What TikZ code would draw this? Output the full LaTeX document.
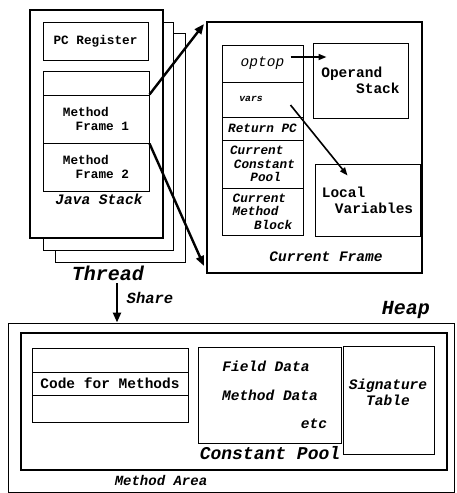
\documentclass[tikz,border=0pt]{standalone}
\usepackage{fontspec}
\setmainfont{Liberation Mono}
\usetikzlibrary{arrows.meta,positioning}

\newcommand{\szV}{\fontsize{9.7}{11}\selectfont}
\newcommand{\szS}{\fontsize{12.7}{13.5}\selectfont}
\newcommand{\szM}{\fontsize{14.5}{16}\selectfont}
\newcommand{\szB}{\fontsize{18}{20}\selectfont}
\newcommand{\szL}{\fontsize{20}{22}\selectfont}

\tikzset{
  thinbox/.style={draw, line width=1pt, fill=white, inner sep=0pt},
  thickbox/.style={draw, line width=2pt, fill=white, inner sep=0pt},
  upr/.style={font=\bfseries#1, align=left, inner sep=0pt},
  upr/.default=\szM,
  ital/.style={font=\bfseries\itshape#1, align=left, inner sep=0pt},
  ital/.default=\szM,
  bigarrow/.style={line width=2.4pt, -{Triangle[length=10pt,width=8pt]}},
  smallarrow/.style={line width=1.6pt, -{Triangle[length=8pt,width=6pt]}},
}

\begin{document}
\begin{tikzpicture}[x=1pt, y=-1pt]
\useasboundingbox (0,0) rectangle (456,493);

% Thread pages
\node[thinbox, minimum width=130pt, minimum height=229pt] (page3) at (120,147.5) {};
\node[thinbox, minimum width=130pt, minimum height=228pt] (page2) at (108,136) {};
\node[thickbox, minimum width=133pt, minimum height=228pt] (page1) at (96.5,124) {};

% PC register and Java stack
\node[thinbox, minimum width=105pt, minimum height=38pt, upr=\szS] (pcreg) at (95.5,41) {PC Register};
\node[thinbox, minimum width=106pt, minimum height=24pt] (top) at (96,83) {};
\node[thinbox, minimum width=106pt, minimum height=48pt, upr=\szS] (mf1) at (96,119) {Method\\\hspace*{1em}Frame 1};
\node[thinbox, minimum width=106pt, minimum height=48pt, upr=\szS] (mf2) at (96,167) {Method\\\hspace*{1em}Frame 2};
\node[ital] (jstack) at (99,199) {Java Stack};
\node[ital=\szL] (thread) at (108,273) {Thread};

% Current frame
\node[thickbox, minimum width=215pt, minimum height=251pt] (cf) at (314.5,147.5) {};
\node[thinbox, minimum width=81pt, minimum height=37pt, ital] (optop) at (262.5,63.5) {\mdseries optop};
\node[thinbox, minimum width=81pt, minimum height=35pt] (vars) at (262.5,99.5) {};
\node[ital=\szV] (varstxt) at (251,99) {vars};
\node[thinbox, minimum width=81pt, minimum height=23pt, ital=\szS] (retpc) at (262.5,128.5) {Return PC};
\node[thinbox, minimum width=81pt, minimum height=48pt, ital=\szS] (ccp) at (262.5,164) {Current\\\hspace*{0.3em}Constant\\\hspace*{1.6em}Pool};
\node[thinbox, minimum width=81pt, minimum height=47pt, ital=\szS] (cmb) at (262.5,211.5) {Current\\Method\\\hspace*{1.7em}Block};
\node[thinbox, minimum width=95pt, minimum height=75pt, upr] (opstack) at (360.5,80.5) {Operand\\\hspace*{2.4em}Stack};
\node[thinbox, minimum width=105pt, minimum height=72pt, upr] (locvars) at (367.5,200) {Local\\\hspace*{0.9em}Variables};
\node[ital] (cftxt) at (326,257) {Current Frame};

% Pointers
\coordinate (optopsrc) at ([xshift=-13pt,yshift=6.5pt]optop.east);
\coordinate (varssrc) at ([xshift=-13pt,yshift=-5.5pt]vars.east);
\draw[smallarrow] (optopsrc) -- ([xshift=14pt]opstack.west |- optopsrc);
\draw[smallarrow] (varssrc) -- ([xshift=33pt,yshift=-12pt]locvars.north west);
\draw[bigarrow] (mf1.north east) -- ([xshift=-2pt,yshift=-3pt]cf.north west);
\draw[bigarrow] (mf1.south east) -- ([xshift=-2pt,yshift=8pt]cf.south west);

% Heap
\node[thinbox, minimum width=446pt, minimum height=169pt] (heap) at (231,407.5) {};
\node[ital=\szL] (heaptxt) at (406,310) {Heap};
\coordinate (shr) at (117,283);
\node[ital=\fontsize{15.5}{17}\selectfont] (sharetxt) at (150,298) {Share};
\draw[bigarrow] (shr) -- (shr |- heap.north);

% Method area
\node[thickbox, minimum width=426pt, minimum height=137pt] (marea) at (234,401.5) {};
\node[ital=\fontsize{14}{16}\selectfont] (mareatxt) at (161,480) {Method Area};
\node[thinbox, minimum width=156pt, minimum height=24pt] (code1) at (110,360) {};
\node[thinbox, minimum width=156pt, minimum height=23pt, upr] (code2) at (110,383.5) {Code for Methods};
\node[thinbox, minimum width=156pt, minimum height=27pt] (code3) at (110,408.5) {};
\node[thinbox, minimum width=143pt, minimum height=96pt] (cpool) at (269.5,395) {};
\node[ital] (field) at (266,366) {Field Data};
\node[ital] (mdata) at (270,395) {Method Data};
\node[ital] (etc) at (314,424) {etc};
\node[ital=\szB] (cpooltxt) at (270,453) {Constant Pool};
\node[thinbox, minimum width=91pt, minimum height=108pt] (sig) at (388.5,400) {};
\node[ital, align=center] (sigtxt) at (388,392) {Signature\\Table};

\end{tikzpicture}
\end{document}
